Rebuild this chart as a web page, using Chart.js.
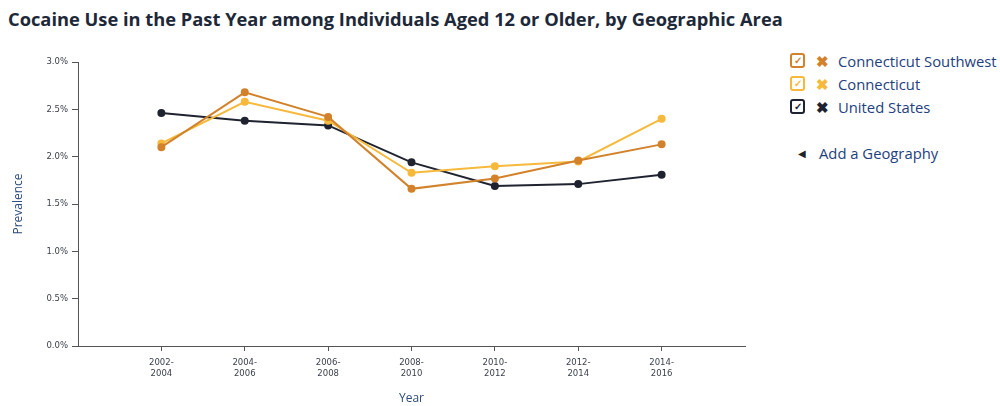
<!DOCTYPE html>
<html>
<head>
<meta charset="utf-8">
<script src="https://cdn.jsdelivr.net/npm/chart.js@4"></script>
<style>
  body { margin: 0; width: 1000px; height: 406px; background: #fff; overflow: hidden; position: relative; font-family: "Open Sans", sans-serif; }
  h1 { position: absolute; left: 8px; top: 6px; margin: 0; font: bold 18.3px "Open Sans", sans-serif; color: #1d2838; }
  #wrap { position: absolute; left: 0; top: 50px; width: 760px; height: 356px; }
  #legend { position: absolute; left: 790px; top: 49px; font-size: 14.8px; color: #23417e; }
  .row { height: 23px; line-height: 20px; display: flex; align-items: center; }
  .chk { width: 11px; height: 11px; border: 2px solid; border-radius: 3px; font-size: 10px; line-height: 11px; text-align: center; font-weight: bold; margin-right: 11px; }
  .x { font-weight: bold; font-size: 15px; margin-right: 9px; }
  .add { margin-top: 23px; padding-left: 8px; }
  .add span { font-size: 10px; margin-right: 13px; color: #222; }
</style>
</head>
<body>
<h1>Cocaine Use in the Past Year among Individuals Aged 12 or Older, by Geographic Area</h1>
<div id="wrap"><canvas id="c"></canvas></div>
<div id="legend"></div>
<script>
const periods = ['2002-2004', '2004-2006', '2006-2008', '2008-2010', '2010-2012', '2012-2014', '2014-2016'];
const ctSouthwest = [2.10, 2.68, 2.42, 1.66, 1.77, 1.96, 2.13];
const connecticut = [2.14, 2.58, 2.38, 1.83, 1.90, 1.95, 2.40];
const unitedStates = [2.46, 2.38, 2.33, 1.94, 1.69, 1.71, 1.81];
const seriesNames = ['Connecticut Southwest', 'Connecticut', 'United States'];
const seriesColors = ['#d2822a', '#f6b93b', '#1f2330'];

const legend = document.getElementById('legend');
seriesNames.forEach((name, i) => {
    const row = document.createElement('div');
    row.className = 'row';
    row.innerHTML = `<span class="chk" style="border-color:${seriesColors[i]};color:${seriesColors[i]}">✓</span>` +
        `<span class="x" style="color:${seriesColors[i]}">✖</span>${name}`;
    legend.appendChild(row);
});
const add = document.createElement('div');
add.className = 'row add';
add.innerHTML = '<span>◀</span>Add a Geography';
legend.appendChild(add);

const toPoints = vals => vals.map((v, i) => ({x: i + 1, y: v}));
const datasets = [ctSouthwest, connecticut, unitedStates].map((vals, i) => ({
    label: seriesNames[i], data: toPoints(vals),
    borderColor: seriesColors[i], backgroundColor: seriesColors[i],
    borderWidth: 2, pointRadius: 3, pointHoverRadius: 3, tension: 0
}));

const tickFont = {family: 'DejaVu Sans', size: 8.5};
new Chart(document.getElementById('c'), {
    type: 'line',
    data: {datasets},
    options: {
        responsive: true, maintainAspectRatio: false, animation: false,
        layout: {padding: {top: 12, right: 15, left: 7, bottom: 0}},
        plugins: {legend: {display: false}, tooltip: {enabled: false}},
        scales: {
            x: {
                type: 'linear', min: 0, max: periods.length + 1,
                afterBuildTicks: s => { s.ticks = periods.map((p, i) => ({value: i + 1})); },
                afterFit: s => { s.height = 60; },
                ticks: {
                    autoSkip: false, maxRotation: 0, color: '#3a3f4a', font: tickFont, padding: 7,
                    callback: v => { const p = periods[v - 1]; return p ? [p.slice(0, 5), p.slice(5)] : ''; }
                },
                grid: {display: true, drawOnChartArea: false, drawTicks: true, tickLength: 5, color: '#555'},
                border: {display: true, color: '#555', width: 1},
                title: {display: true, text: 'Year', color: '#2c4a7a', font: {family: 'Open Sans', size: 12}, padding: {top: 4, bottom: 0}}
            },
            y: {
                min: 0, max: 3,
                afterFit: s => { s.width = 71; },
                ticks: {stepSize: 0.5, color: '#3a3f4a', font: tickFont, padding: 4, callback: v => v.toFixed(1) + '%'},
                grid: {display: true, drawOnChartArea: false, drawTicks: true, tickLength: 6, color: '#555'},
                border: {display: true, color: '#555', width: 1},
                title: {display: true, text: 'Prevalence', color: '#2c4a7a', font: {family: 'Open Sans', size: 12}, padding: {bottom: 12}}
            }
        }
    }
});
</script>
</body>
</html>
